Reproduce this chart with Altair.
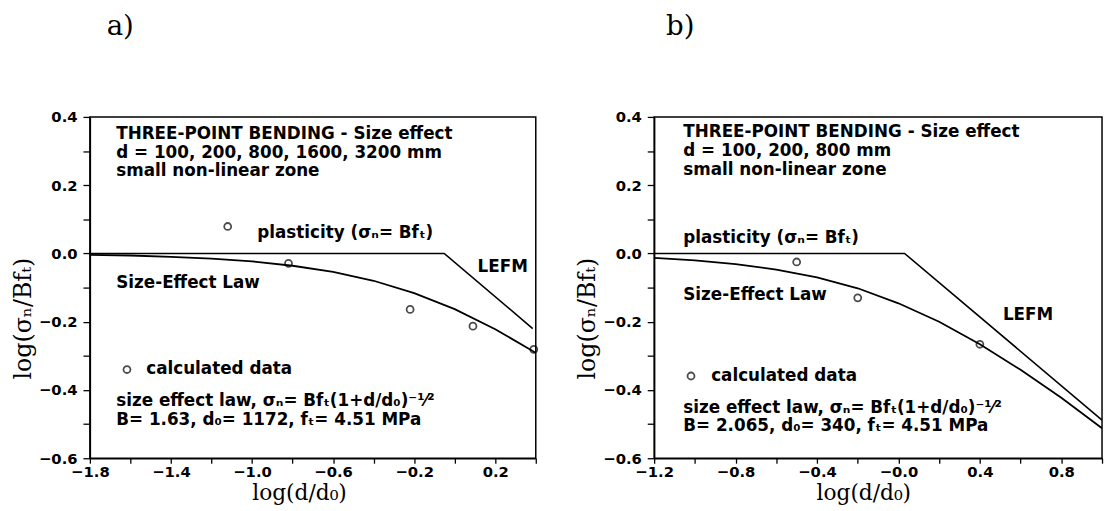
import altair as alt
import pandas as pd

# ---------------- panel a) ----------------
a_curve_x = [-1.8, -1.6, -1.4, -1.2, -1.0, -0.8, -0.6, -0.4, -0.2, 0.0, 0.2, 0.4]
a_curve_y = [-0.004, -0.006, -0.010, -0.015, -0.023, -0.036, -0.054, -0.080, -0.116, -0.163, -0.222, -0.291]
a_limit_x = [-1.8, -0.052, 0.385]
a_limit_y = [0.0, 0.0, -0.220]
a_data_x = [-1.12, -0.82, -0.22, 0.09, 0.39]
a_data_y = [0.079, -0.029, -0.164, -0.213, -0.281]
a_labels = [
    "THREE-POINT BENDING - Size effect",
    "d = 100, 200, 800, 1600, 3200 mm",
    "small non-linear zone",
    "plasticity (σₙ= Bfₜ)",
    "LEFM",
    "Size-Effect Law",
    "calculated data",
    "size effect law, σₙ= Bfₜ(1+d/d₀)⁻¹⁄²",
    "B= 1.63, d₀= 1172, fₜ= 4.51 MPa",
]
a_label_x = [-1.67, -1.67, -1.67, -0.974, 0.113, -1.67, -1.522, -1.67, -1.67]
a_label_y = [0.350, 0.295, 0.240, 0.060, -0.041, -0.088, -0.340, -0.432, -0.487]
a_key_x = [-1.617]
a_key_y = [-0.340]
a_xticks = [-1.8, -1.6, -1.4, -1.2, -1.0, -0.8, -0.6, -0.4, -0.2, 0.0, 0.2, 0.4]

# ---------------- panel b) ----------------
b_curve_x = [-1.2, -1.0, -0.8, -0.6, -0.4, -0.2, 0.0, 0.2, 0.4, 0.6, 0.8, 1.0]
b_curve_y = [-0.013, -0.020, -0.031, -0.047, -0.070, -0.102, -0.146, -0.200, -0.266, -0.341, -0.423, -0.512]
b_limit_x = [-1.2, 0.03, 1.0]
b_limit_y = [0.0, 0.0, -0.488]
b_data_x = [-0.50, -0.20, 0.40]
b_data_y = [-0.025, -0.130, -0.266]
b_labels = [
    "THREE-POINT BENDING - Size effect",
    "d = 100, 200, 800 mm",
    "small non-linear zone",
    "plasticity (σₙ= Bfₜ)",
    "Size-Effect Law",
    "LEFM",
    "calculated data",
    "size effect law, σₙ= Bfₜ(1+d/d₀)⁻¹⁄²",
    "B= 2.065, d₀= 340, fₜ= 4.51 MPa",
]
b_label_x = [-1.057, -1.057, -1.057, -1.057, -1.057, 0.513, -0.92, -1.057, -1.057]
b_label_y = [0.355, 0.300, 0.245, 0.045, -0.122, -0.180, -0.359, -0.452, -0.507]
b_key_x = [-1.019]
b_key_y = [-0.359]
b_xticks = [-1.2, -1.0, -0.8, -0.6, -0.4, -0.2, 0.0, 0.2, 0.4, 0.6, 0.8, 1.0]

y_ticks = [-0.6, -0.5, -0.4, -0.3, -0.2, -0.1, 0.0, 0.1, 0.2, 0.3, 0.4]

LABEL_FONT = "DejaVu Sans"
SERIF = "DejaVu Serif"


def panel(curve_x, curve_y, limit_x, limit_y, data_x, data_y, labels, label_x,
          label_y, key_x, key_y, domain, xticks, label_expr, width, letter, letter_dx):
    xaxis = alt.Axis(
        values=xticks, labelExpr=label_expr, title="log(d/d₀)",
        titleFont=SERIF, titleFontSize=22, titleFontWeight="normal", titleColor="black",
        titleX=212, titleY=25, titleAlign="center", titleBaseline="top",
        labelFont=LABEL_FONT, labelFontWeight="bold", labelFontSize=15, labelColor="black",
        labelFlush=False, labelPadding=1, tickSize=5, tickColor="black", tickWidth=1.3,
        domainColor="black", domainWidth=1.5, grid=False,
    )
    yaxis = alt.Axis(
        values=y_ticks,
        labelExpr="(round(datum.value*10) % 2 == 0) ? format(datum.value, '.1f') : ''",
        title="log(σₙ/Bfₜ)", titleFont=SERIF, titleFontSize=24, titleFontWeight="normal",
        titleColor="black", titleY=204, titlePadding=3,
        labelFont=LABEL_FONT, labelFontWeight="bold", labelFontSize=15, labelColor="black",
        labelFlush=False, labelPadding=6, tickSize=7, tickColor="black", tickWidth=1.3,
        domainColor="black", domainWidth=1.5, grid=False,
    )
    X = alt.X("x:Q", scale=alt.Scale(domain=domain, nice=False, zero=False), axis=xaxis)
    Y = alt.Y("y:Q", scale=alt.Scale(domain=[-0.6, 0.4], nice=False, zero=False), axis=yaxis)

    curve = alt.Chart(pd.DataFrame({"x": curve_x, "y": curve_y})).mark_line(
        color="black", strokeWidth=1.8, clip=True).encode(x=X, y=Y)
    limit = alt.Chart(pd.DataFrame({"x": limit_x, "y": limit_y})).mark_line(
        color="black", strokeWidth=1.6, clip=True).encode(x=X, y=Y)
    pts = alt.Chart(pd.DataFrame({"x": data_x, "y": data_y})).mark_point(
        shape="circle", filled=False, size=50, color="black", strokeWidth=1.8).encode(x=X, y=Y)
    key = alt.Chart(pd.DataFrame({"x": key_x, "y": key_y})).mark_point(
        shape="circle", filled=False, size=50, color="black", strokeWidth=1.8).encode(x=X, y=Y)
    txt = alt.Chart(pd.DataFrame({"x": label_x, "y": label_y, "t": labels})).mark_text(
        align="left", baseline="middle", font=LABEL_FONT, fontWeight="bold",
        fontSize=17, color="black").encode(x=X, y=Y, text="t:N")
    let = alt.Chart(pd.DataFrame({"t": [letter]})).mark_text(
        align="left", baseline="alphabetic", font=SERIF, fontSize=28, color="black"
    ).encode(x=alt.value(letter_dx), y=alt.value(-83), text="t:N")
    return alt.layer(curve, limit, pts, key, txt, let).properties(width=width, height=346)


pa = panel(a_curve_x, a_curve_y, a_limit_x, a_limit_y, a_data_x, a_data_y, a_labels,
           a_label_x, a_label_y, a_key_x, a_key_y, [-1.8, 0.4], a_xticks,
           "((round(datum.value*10)+2) % 4 == 0) ? format(datum.value, '.1f') : ''",
           452, "a)", 17)
pb = panel(b_curve_x, b_curve_y, b_limit_x, b_limit_y, b_data_x, b_data_y, b_labels,
           b_label_x, b_label_y, b_key_x, b_key_y, [-1.2, 1.0], b_xticks,
           "(round(datum.value*10) % 4 == 0) ? (datum.value == 0 ? '−0.0' : format(datum.value, '.1f')) : ''",
           454, "b)", 12)

chart = alt.hconcat(pa, pb, spacing=34).properties(
    padding={"left": 3, "top": 1, "right": 0, "bottom": 0},
    background="white",
).configure_view(stroke="black", strokeWidth=1.5)

chart.save("out.html", embed_options={"renderer": "svg", "actions": False})
